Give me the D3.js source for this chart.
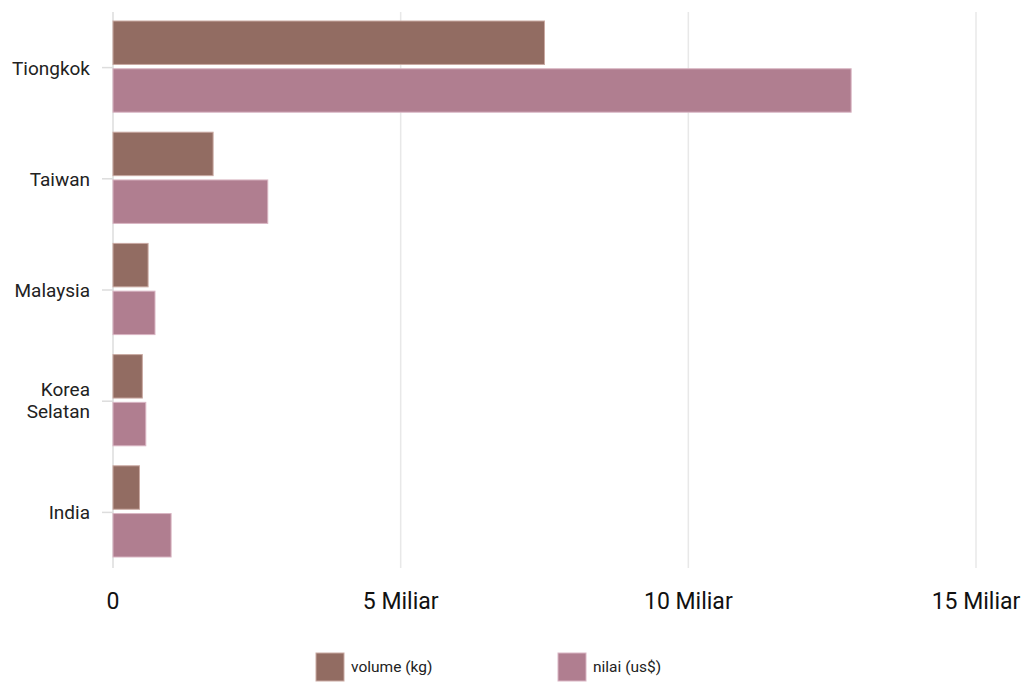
<!DOCTYPE html>
<html><head><meta charset="utf-8">
<script src="https://cdn.jsdelivr.net/npm/d3@7"></script>
<style>body{margin:0;background:#fff;} text{font-family:Roboto, "Noto Sans", sans-serif;}</style>
</head><body>
<svg id="c" width="1026" height="682"></svg>
<script>
const categories = ["Tiongkok", "Taiwan", "Malaysia", "Korea Selatan", "India"];
const volumeKg = [7.5e9, 1.74e9, 0.61e9, 0.51e9, 0.46e9];
const nilaiUsd = [12.83e9, 2.69e9, 0.73e9, 0.57e9, 1.01e9];
const seriesNames = ["volume (kg)", "nilai (us$)"];
const xTicks = [0, 5e9, 10e9, 15e9];
const xTickLabels = ["0", "5 Miliar", "10 Miliar", "15 Miliar"];
const colors = ["#926c62", "#b07e90"];
const strokes = ["#c9a9a2", "#d9b5c3"];

const svg = d3.select("#c");
const x = d3.scaleLinear().domain([0, 15e9]).range([113, 976]);
const y = d3.scaleBand().domain(categories).range([12, 568]).paddingInner(0).paddingOuter(0);
const sub = d3.scaleBand().domain([0,1]).range([9, y.bandwidth()-11]).paddingInner(0.09);

// grid
svg.append("g").selectAll("line").data(xTicks.slice(1)).join("line")
  .attr("x1", d=>x(d)).attr("x2", d=>x(d)).attr("y1", 12).attr("y2", 568)
  .attr("stroke", "#e8e8e8").attr("stroke-width", 1.5);
// y axis line
svg.append("line").attr("x1", x(0)).attr("x2", x(0)).attr("y1", 12).attr("y2", 568)
  .attr("stroke", "#dddddd").attr("stroke-width", 1.5);
// y ticks
svg.append("g").selectAll("line").data(categories).join("line")
  .attr("x1", 102).attr("x2", x(0)).attr("y1", d=>y(d)+y.bandwidth()/2).attr("y2", d=>y(d)+y.bandwidth()/2)
  .attr("stroke", "#dddddd").attr("stroke-width", 1.5);

// bars
const data = categories.map((c,i)=>({c, vals:[volumeKg[i], nilaiUsd[i]]}));
const g = svg.append("g");
data.forEach(d=>{
  d.vals.forEach((v,k)=>{
    g.append("rect").attr("x", x(0)).attr("y", y(d.c)+sub(k))
      .attr("width", x(v)-x(0)).attr("height", sub.bandwidth())
      .attr("fill", colors[k]).attr("stroke", strokes[k]).attr("stroke-width", 1);
  });
});

// y labels
const yl = svg.append("g");
categories.forEach(c=>{
  const cy = y(c)+y.bandwidth()/2;
  const words = c.split(" ");
  const t = yl.append("text").attr("text-anchor","end").attr("font-size",19).attr("fill","#222");
  if (words.length===1){
    t.append("tspan").attr("x",90).attr("y",cy+7).text(c);
  } else {
    words.forEach((w,i)=>t.append("tspan").attr("x",90).attr("y",cy-5+i*22).text(w));
  }
});

// x labels
svg.append("g").selectAll("text").data(xTicks).join("text")
  .attr("x", d=>x(d)).attr("y", 609).attr("text-anchor","middle")
  .attr("font-size", 23).attr("fill","#111")
  .text((d,i)=>xTickLabels[i]);

// legend
const legX = [316, 558];
seriesNames.forEach((n,i)=>{
  svg.append("rect").attr("x", legX[i]).attr("y", 653).attr("width", 28).attr("height", 28)
    .attr("fill", colors[i]).attr("stroke", strokes[i]);
  svg.append("text").attr("x", legX[i]+35).attr("y", 672).attr("font-size", 15.5).attr("fill","#222").text(n);
});
</script>
</body></html>
